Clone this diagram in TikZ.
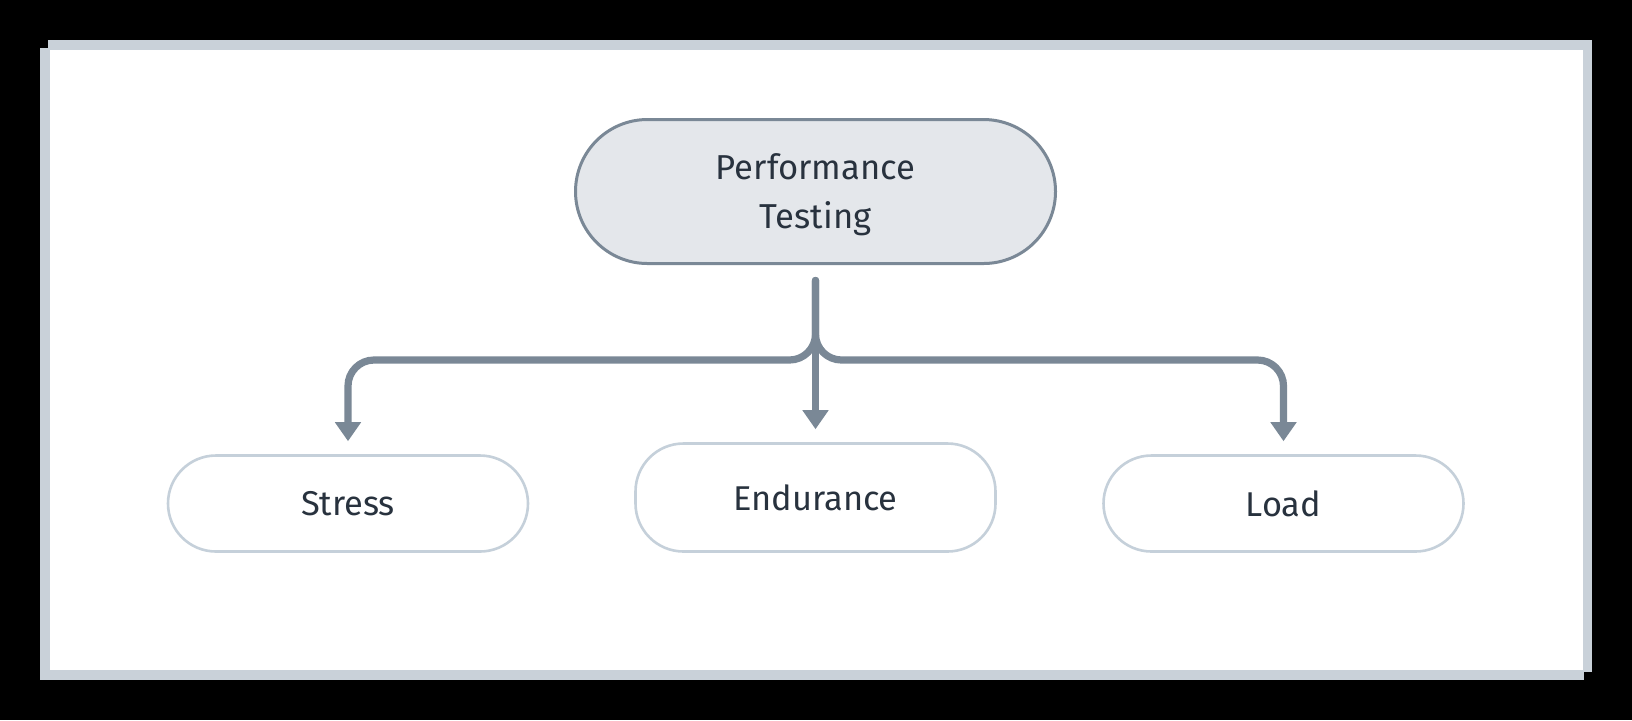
\documentclass[tikz,border=0pt]{standalone}
\usepackage{fontspec}
\setmainfont{Fira Sans}
\usetikzlibrary{arrows.meta}
\definecolor{framegray}{HTML}{C9D1D9}
\definecolor{conn}{HTML}{7A8896}
\definecolor{topfill}{HTML}{E4E7EB}
\definecolor{childline}{HTML}{C5D0DA}
\definecolor{txt}{HTML}{28323E}
\begin{document}
\begin{tikzpicture}[x=0.5pt,y=-0.5pt,
  topbox/.style={draw=conn, line width=1.5pt, fill=topfill, rounded corners=36pt,
    minimum width=240pt, minimum height=72pt, text=txt, align=center,
    font=\fontsize{17.3}{24.5}\selectfont, inner sep=0pt},
  childbox/.style={draw=childline, line width=1.3pt, fill=white, rounded corners=24pt,
    minimum width=180pt, minimum height=48pt, text=txt,
    font=\fontsize{17.2}{24}\selectfont, inner sep=0pt},
  connector/.style={draw=conn, line width=3.6pt, rounded corners=13pt, line cap=round,
    -{Triangle[width=12.5pt,length=9.5pt]}, shorten >=6.5pt}]
  \fill[black] (0,0) rectangle (1632,720);
  \fill[framegray] (48,40) rectangle (1592,672);
  \fill[framegray] (40,48) rectangle (1584,680);
  \fill[white] (50,50) rectangle (1583,670);
  \node[topbox] (pt) at (815.5,191.5) {\rule{0pt}{16.5pt}Performance\\Testing};
  \node[childbox] (stress) at (348,503.5) {Stress};
  \node[childbox, minimum height=54pt] (endur) at (815.5,497.5) {Endurance};
  \node[childbox] (load) at (1283.5,503.5) {Load};
  \coordinate (split) at (815.5,360);
  \draw[connector] ([yshift=-7.75pt]pt.south) -- (split) -| (stress.north);
  \draw[connector] ([yshift=-7.75pt]pt.south) -- (split) -| (load.north);
  \draw[connector] ([yshift=-7.75pt]pt.south) -- (endur.north);
\end{tikzpicture}
\end{document}
